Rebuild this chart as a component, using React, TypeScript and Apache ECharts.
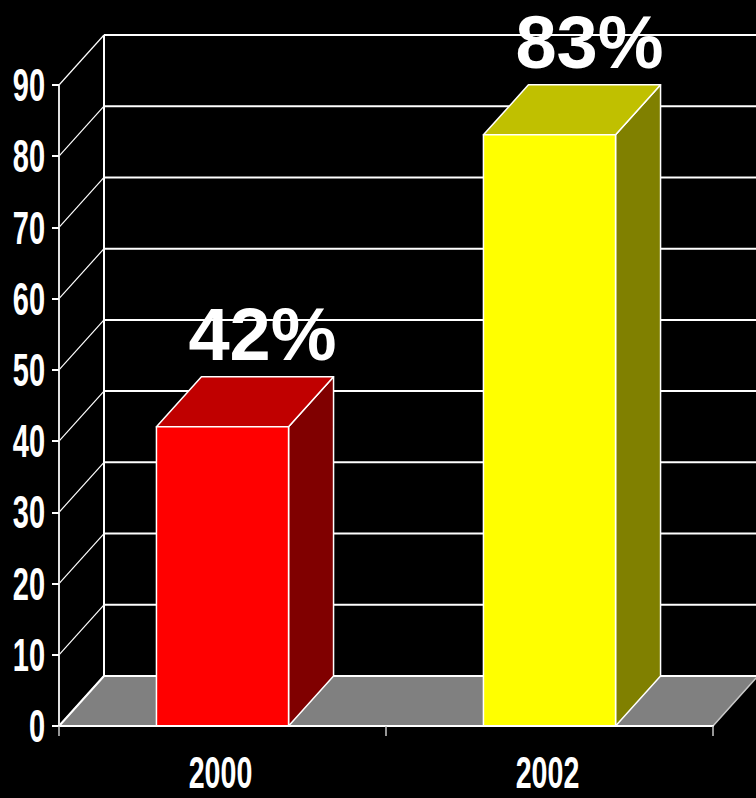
import React, { useEffect, useRef } from "react";
import * as echarts from "echarts";

const categories = ["2000", "2002"];
const values = [42, 83];
const valueLabels = ["42%", "83%"];
const yTicks = [0, 10, 20, 30, 40, 50, 60, 70, 80, 90];
const frontColors = ["#FF0000", "#FFFF00"];
const topColors = ["#C00000", "#C0C000"];
const sideColors = ["#800000", "#808000"];

const DX = 45;
const DY = -50;
const FONT = "'Liberation Sans', Arial, sans-serif";
const TICK_FONT_SIZE = 46;
const NARROW_SCALE = 0.63;

export default function App() {
  const ref = useRef<HTMLDivElement>(null);
  useEffect(() => {
    if (!ref.current) return;
    const chart = echarts.init(ref.current, null, { renderer: "svg" });
    chart.setOption({
      animation: false,
      backgroundColor: "#000000",
      grid: { left: 59, right: 43, top: 85, bottom: 72, containLabel: false, outerBoundsMode: "none" },
      xAxis: {
        type: "category",
        data: categories,
        z: 10,
        axisLine: { show: true, lineStyle: { color: "#ffffff", width: 2 } },
        axisTick: { show: true, length: 10, lineStyle: { color: "#c8c8c8", width: 1.5 } },
        axisLabel: { show: false },
        splitLine: { show: false },
      },
      yAxis: {
        type: "value",
        min: 0,
        max: 90,
        interval: 10,
        z: 10,
        axisLine: { show: true, lineStyle: { color: "#e0e0e0", width: 2 } },
        axisTick: { show: true, length: 7, lineStyle: { color: "#ffffff", width: 2 } },
        axisLabel: { show: false },
        splitLine: { show: false },
      },
      series: [
        {
          // floor, back wall, side wall grid lines and y tick labels
          type: "custom",
          silent: true,
          z: 1,
          data: yTicks.map((v) => [0, v]),
          renderItem: (params: any, api: any) => {
            const cs = params.coordSys;
            const v = api.value(1);
            const y = api.coord([0, v])[1];
            const x0 = cs.x;
            const x1 = cs.x + cs.width;
            const children: any[] = [];
            if (v === 0) {
              children.push({
                type: "polygon",
                shape: {
                  points: [
                    [x0, y],
                    [x1, y],
                    [x1 + DX, y + DY],
                    [x0 + DX, y + DY],
                  ],
                },
                style: { fill: "#808080", stroke: "#c8c8c8", lineWidth: 1.5 },
              });
              const yTop = api.coord([0, yTicks[yTicks.length - 1]])[1];
              children.push({
                type: "line",
                shape: { x1: x0 + DX, y1: y + DY, x2: x0 + DX, y2: yTop + DY },
                style: { stroke: "#ffffff", lineWidth: 2 },
              });
            }
            children.push({
              type: "line",
              shape: { x1: x0 + DX, y1: y + DY, x2: x1 + DX + 10, y2: y + DY },
              style: { stroke: "#ffffff", lineWidth: 2 },
            });
            children.push({
              type: "line",
              shape: { x1: x0, y1: y, x2: x0 + DX, y2: y + DY },
              style: { stroke: "#ffffff", lineWidth: v === 0 ? 2 : 1.2 },
            });
            children.push({
              type: "text",
              x: x0 - 14,
              y: y,
              scaleX: NARROW_SCALE,
              style: {
                text: String(v),
                fill: "#ffffff",
                font: `bold ${TICK_FONT_SIZE}px ${FONT}`,
                align: "right",
                verticalAlign: "middle",
              },
            });
            return { type: "group", children };
          },
        },
        {
          // category labels
          type: "custom",
          silent: true,
          z: 2,
          data: categories.map((c, i) => [i, 0]),
          renderItem: (params: any, api: any) => {
            const i = params.dataIndex;
            const p = api.coord([i, 0]);
            return {
              type: "text",
              x: p[0] - 2,
              y: p[1] + 47,
              scaleX: 0.65,
              style: {
                text: categories[i],
                fill: "#ffffff",
                font: `bold 44px ${FONT}`,
                align: "center",
                verticalAlign: "middle",
              },
            };
          },
        },
        {
          // 3D bars with value labels
          type: "custom",
          silent: true,
          z: 3,
          data: values.map((v, i) => [i, v]),
          renderItem: (params: any, api: any) => {
            const i = params.dataIndex;
            const top = api.coord([i, api.value(1)]);
            const base = api.coord([i, 0]);
            const band = api.size([1, 0])[0];
            const w = band * 0.404;
            const xl = top[0] - w / 2;
            const xr = top[0] + w / 2;
            const yt = top[1];
            const yb = base[1];
            const stroke = { stroke: "#ffffff", lineWidth: 1.5, lineJoin: "round" };
            return {
              type: "group",
              children: [
                {
                  type: "polygon",
                  shape: { points: [[xr, yt], [xr + DX, yt + DY], [xr + DX, yb + DY], [xr, yb]] },
                  style: { fill: sideColors[i], ...stroke },
                },
                {
                  type: "polygon",
                  shape: { points: [[xl, yt], [xr, yt], [xr + DX, yt + DY], [xl + DX, yt + DY]] },
                  style: { fill: topColors[i], ...stroke },
                },
                {
                  type: "rect",
                  shape: { x: xl, y: yt, width: w, height: yb - yt },
                  style: { fill: frontColors[i], ...stroke },
                },
                {
                  type: "text",
                  x: top[0] + 40,
                  y: yt - 92,
                  style: {
                    text: valueLabels[i],
                    fill: "#ffffff",
                    font: `bold 74px ${FONT}`,
                    align: "center",
                    verticalAlign: "middle",
                  },
                },
              ],
            };
          },
        },
      ],
    });
    return () => chart.dispose();
  }, []);
  return (
    <div
      ref={ref}
      style={{ position: "fixed", left: 0, top: 0, width: 756, height: 798 }}
    />
  );
}
